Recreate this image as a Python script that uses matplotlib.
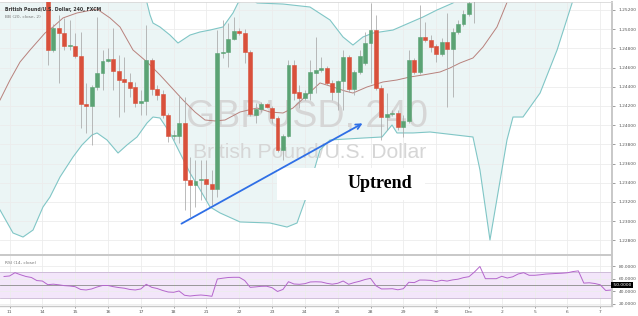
import matplotlib
matplotlib.use("Agg")
import matplotlib.pyplot as plt
from matplotlib.patches import Rectangle
import numpy as np

# GBPUSD 240-minute candles, index 0 = first candle of Nov 11 (6 candles per day)
candle_idx = np.arange(7, 86)
opens = [1.25410, 1.24783, 1.25012, 1.24960, 1.24825, 1.24825, 1.24721, 1.24221, 1.24200, 1.24398,
         1.24544, 1.24669, 1.24689, 1.24564, 1.24481, 1.24450, 1.24398, 1.24231, 1.24252, 1.24679,
         1.24377, 1.24325, 1.24106, 1.23887, 1.23887, 1.24023, 1.23429, 1.23377, 1.23434, 1.23439,
         1.23387, 1.23335, 1.24752, 1.24762, 1.24898, 1.24981, 1.24960, 1.24762, 1.24106, 1.24169,
         1.24221, 1.24179, 1.24075, 1.23741, 1.23887, 1.24627, 1.24346, 1.24283, 1.24335, 1.24544,
         1.24575, 1.24596, 1.24440, 1.24346, 1.24460, 1.24710, 1.24377, 1.24554, 1.24648, 1.24856,
         1.24991, 1.24387, 1.24085, 1.24117, 1.24127, 1.23981, 1.24044, 1.24679, 1.24554, 1.24919,
         1.24887, 1.24825, 1.24741, 1.24867, 1.24794, 1.24971, 1.25054, 1.25158, 1.25350]
highs = [1.25460, 1.25054, 1.25148, 1.25117, 1.25096, 1.24960, 1.24971, 1.24440, 1.24419, 1.25127,
         1.24783, 1.24804, 1.25012, 1.24731, 1.24710, 1.24544, 1.24450, 1.24367, 1.25044, 1.24700,
         1.24419, 1.24367, 1.24127, 1.23950, 1.24314, 1.24294, 1.23669, 1.23637, 1.23637, 1.23637,
         1.23533, 1.24991, 1.25096, 1.25064, 1.25127, 1.25012, 1.25002, 1.24783, 1.24231, 1.24241,
         1.24231, 1.24200, 1.24096, 1.23908, 1.24679, 1.24679, 1.24419, 1.24367, 1.24679, 1.24919,
         1.24710, 1.24617, 1.24471, 1.24471, 1.24783, 1.24731, 1.24575, 1.24783, 1.24971, 1.25273,
         1.25148, 1.24419, 1.24335, 1.24158, 1.24158, 1.24106, 1.24783, 1.24700, 1.25252, 1.25075,
         1.24939, 1.24846, 1.24908, 1.25169, 1.25012, 1.25096, 1.25200, 1.25350, 1.25510]
lows = [1.24627, 1.24762, 1.24440, 1.24783, 1.24783, 1.24700, 1.23971, 1.23919, 1.23794, 1.24367,
        1.24367, 1.24658, 1.24367, 1.24085, 1.24137, 1.24294, 1.24189, 1.24106, 1.24106, 1.24314,
        1.24262, 1.24075, 1.23825, 1.23846, 1.23814, 1.23117, 1.23044, 1.23148, 1.23221, 1.23221,
        1.23169, 1.23252, 1.24700, 1.24606, 1.24887, 1.24939, 1.24648, 1.24096, 1.24023, 1.24137,
        1.24179, 1.24023, 1.23721, 1.23637, 1.23877, 1.24262, 1.24179, 1.24262, 1.24262, 1.24335,
        1.24554, 1.24419, 1.24262, 1.24158, 1.24158, 1.24346, 1.24314, 1.24533, 1.24627, 1.24440,
        1.24367, 1.23846, 1.23950, 1.24096, 1.23950, 1.23877, 1.24023, 1.24533, 1.24533, 1.24867,
        1.24762, 1.24658, 1.24721, 1.24189, 1.24294, 1.24950, 1.25033, 1.25137, 1.25064]
closes = [1.24783, 1.25012, 1.24960, 1.24825, 1.24835, 1.24721, 1.24221, 1.24200, 1.24398, 1.24544,
          1.24669, 1.24689, 1.24564, 1.24471, 1.24450, 1.24387, 1.24231, 1.24252, 1.24679, 1.24377,
          1.24314, 1.24106, 1.23887, 1.23898, 1.24023, 1.23429, 1.23377, 1.23418, 1.23439, 1.23387,
          1.23335, 1.24752, 1.24762, 1.24898, 1.24981, 1.24960, 1.24762, 1.24117, 1.24169, 1.24221,
          1.24189, 1.24075, 1.23741, 1.23887, 1.24627, 1.24335, 1.24283, 1.24335, 1.24554, 1.24575,
          1.24596, 1.24440, 1.24346, 1.24460, 1.24710, 1.24377, 1.24554, 1.24721, 1.24856, 1.24991,
          1.24387, 1.24085, 1.24117, 1.24127, 1.23981, 1.24044, 1.24679, 1.24554, 1.24919, 1.24887,
          1.24814, 1.24741, 1.24867, 1.24794, 1.24971, 1.25054, 1.25158, 1.25273, 1.25460]

# Bollinger bands (20, close, 2)
bb_mid_x = [-1.74, 0.09, 1.92, 3.75, 6.49, 7.95, 9.78, 12.34, 16.0, 18.37, 20.2, 22.58, 25.14, 27.51,
            29.71, 31.72, 33.91, 35.74, 37.57, 39.4, 42.14, 45.25, 47.62, 50.0, 51.83, 54.39, 56.76,
            59.14, 61.33, 62.79, 65.36, 68.28, 70.84, 73.22, 75.59, 78.7, 80.53, 82.36, 84.73, 86.56,
            89.12, 91.13, 92.4]
bb_mid = [1.24262, 1.24471, 1.24658, 1.24783, 1.24960, 1.25023, 1.25117, 1.25169, 1.25210, 1.25117,
          1.25023, 1.24783, 1.24658, 1.24523, 1.24387, 1.24262, 1.24137, 1.24054, 1.24044, 1.24054,
          1.24137, 1.24179, 1.24137, 1.24127, 1.24179, 1.24314, 1.24440, 1.24398, 1.24356, 1.24335,
          1.24398, 1.24450, 1.24471, 1.24502, 1.24523, 1.24554, 1.24596, 1.24648, 1.24700, 1.24814,
          1.25023, 1.25304, 1.25410]
bb_up_x = [-1.74, 24.77, 25.14, 25.69, 26.23, 27.51, 29.34, 30.8, 33.0, 34.83, 36.66, 39.03, 40.86,
           41.77, 43.6, 45.25, 50.0, 54.93, 58.59, 60.97, 62.79, 64.62, 66.45, 70.1, 75.59, 78.15,
           81.08, 83.27, 107.96]
bb_up = [1.25510, 1.25360, 1.25273, 1.25148, 1.25064, 1.25023, 1.24939, 1.24856, 1.24939, 1.24971,
         1.24991, 1.25023, 1.25169, 1.25273, 1.25340, 1.25273, 1.25262, 1.25231, 1.25096, 1.24919,
         1.24835, 1.24919, 1.24960, 1.24991, 1.25127, 1.25200, 1.25273, 1.25410, 1.26350]
bb_low_x = [-1.74, 0.64, 2.47, 4.3, 6.12, 7.4, 9.23, 11.61, 13.25, 15.08, 16.0, 17.82, 19.84, 21.48,
            23.31, 25.14, 26.23, 27.51, 29.34, 31.17, 33.0, 34.83, 36.66, 38.48, 42.14, 47.62, 50.73,
            52.56, 54.39, 56.76, 58.59, 64.62, 68.1, 69.93, 70.84, 73.77, 76.88, 84.73, 86.01, 87.84,
            90.95, 92.05, 93.88, 97.0, 100.11, 103.03, 106.14]
bb_low = [1.23117, 1.22877, 1.22835, 1.22908, 1.23148, 1.23252, 1.23460, 1.23669, 1.23794, 1.23898,
          1.23919, 1.23846, 1.23710, 1.23794, 1.23877, 1.24023, 1.24085, 1.24075, 1.23919, 1.23710,
          1.23502, 1.23329, 1.23148, 1.23086, 1.22992, 1.22981, 1.22939, 1.22981, 1.23273, 1.23741,
          1.23846, 1.23866, 1.23877, 1.24002, 1.23919, 1.23919, 1.23929, 1.23877, 1.23533, 1.22804,
          1.23846, 1.24085, 1.24085, 1.24335, 1.24783, 1.25304, 1.25720]

# RSI (14, close), one value per candle starting at index -1
rsi = [63.5, 64.3, 69.5, 66.3, 63.5, 61.9, 57.0, 56.3, 50.5, 51.3, 50.3, 49.0, 48.4, 47.3, 42.9,
       42.1, 43.7, 46.8, 49.2, 49.2, 47.3, 45.9, 44.9, 42.9, 42.1, 43.7, 51.1, 46.3, 44.4, 41.3,
       38.9, 38.4, 40.5, 33.7, 32.5, 33.5, 34.1, 33.3, 32.1, 59.5, 60.8, 61.9, 62.2, 62.2, 57.1,
       46.3, 47.0, 47.9, 48.1, 45.7, 39.7, 43.0, 55.2, 51.6, 51.1, 52.1, 54.8, 55.1, 54.8, 52.7,
       51.3, 52.7, 56.3, 51.1, 53.8, 55.9, 58.7, 60.5, 48.7, 43.7, 43.8, 44.1, 42.4, 44.1, 54.3,
       53.8, 57.9, 57.8, 57.3, 55.4, 57.5, 56.2, 58.1, 59.2, 61.7, 63.2, 70.6, 79.4, 60.0, 60.0,
       60.0, 63.8, 61.1, 63.0, 67.5, 69.5, 65.4, 65.4, 66.2, 67.3, 67.8, 68.3, 68.7, 69.4, 71.3,
       72.4, 53.0, 53.5, 52.4, 50.3, 41.3, 42.0]

day_labels = ['11', '14', '15', '16', '17', '18', '21', '22', '23', '24', '25',
              '28', '29', '30', 'Dec', '2', '5', '6', '7']
price_ticks = [1.228, 1.230, 1.232, 1.234, 1.236, 1.238, 1.240, 1.242, 1.244,
               1.246, 1.248, 1.250, 1.252]
rsi_ticks = [20, 40, 60, 80]

W, H = 638, 316
fig = plt.figure(figsize=(W / 100, H / 100), dpi=100)
ax = fig.add_axes([0, 61 / H, 612 / W, 253 / H])
rx = fig.add_axes([0, 10 / H, 612 / W, 50 / H])

xlim = (-1.74, 110.15)
day_pos = [6 * d for d in range(len(day_labels))]
grid_c = '#ececec'
axis_c = '#c8c8c8'

# ---- price pane ----
ax.set_xlim(*xlim)
ax.set_ylim(1.226477, 1.252832)
ax.set_xticks(day_pos)
ax.set_xticklabels([])
ax.set_yticks(price_ticks)
ax.set_yticklabels(['%.5f' % p for p in price_ticks])
ax.yaxis.tick_right()
ax.tick_params(axis='y', labelsize=3.2, colors='#555555', length=2, width=0.4, pad=3)
ax.tick_params(axis='x', length=0)
ax.grid(True, color=grid_c, lw=0.6, zorder=0)
ax.set_axisbelow(True)
ax.spines['left'].set_visible(False)
ax.spines['top'].set_color('#d8d8d8')
ax.spines['top'].set_linewidth(0.6)
ax.spines['right'].set_color(axis_c)
ax.spines['right'].set_linewidth(1.4)
ax.spines['bottom'].set_color(axis_c)
ax.spines['bottom'].set_linewidth(1.4)

# band fill
poly_x = list(bb_up_x) + list(bb_low_x[::-1])
poly_y = list(bb_up) + list(bb_low[::-1])
ax.fill(poly_x, poly_y, color='#ebf5f5', lw=0, zorder=0.5)

# watermark
ax.text(307.5 / 612, 1 - (117 - 2) / 253, 'GBPUSD, 240', transform=ax.transAxes,
        ha='center', va='center', fontsize=27, color='#d6d6d6',
        family='Liberation Sans', zorder=1)
ax.text(310 / 612, 1 - (152 - 2) / 253, 'British Pound/U.S. Dollar', transform=ax.transAxes,
        ha='center', va='center', fontsize=15.2, color='#d6d6d6',
        family='Liberation Sans', zorder=1)

ax.plot(bb_up_x, bb_up, color='#80c6c6', lw=0.8, zorder=2)
ax.plot(bb_low_x, bb_low, color='#80c6c6', lw=0.8, zorder=2)
ax.plot(bb_mid_x, bb_mid, color='#b8817c', lw=0.7, zorder=2)

# white patch behind the annotation
ax.add_patch(Rectangle((48.9, 1.23221), 27.0, 0.00333, facecolor='white',
                       edgecolor='none', zorder=2.5))

# candles
up_c, dn_c = '#5ba374', '#d9503b'
for i, o, h, l, c in zip(candle_idx, opens, highs, lows, closes):
    col = up_c if c >= o else dn_c
    ax.vlines(i, l, h, color='#a8a8a8', lw=0.55, zorder=3)
    body = max(abs(c - o), 0.00003)
    ax.bar(i, body, bottom=min(o, c), width=0.72, color=col,
           edgecolor=col, lw=0.4, zorder=3.5)

# uptrend arrow and label
ax.annotate('', xy=(64.99, 1.24033), xytext=(30.99, 1.22960),
            arrowprops=dict(arrowstyle='->', color='#2f6fe6', lw=1.3,
                            mutation_scale=9), zorder=4)
ax.text(380 / 612, 1 - (183 - 2) / 253, 'Uptrend', transform=ax.transAxes,
        ha='center', va='center', fontsize=13, fontweight='bold',
        family='Liberation Serif', color='black', zorder=5)

fig.text(5 / W, 1 - 10 / H, 'British Pound/U.S. Dollar, 240, FXCM', fontsize=3.3,
         color='#333333', va='center', ha='left', fontweight='bold')
fig.text(5 / W, 1 - 16.5 / H, 'BB (20, close, 2)', fontsize=3.2,
         color='#777777', va='center', ha='left')

# ---- RSI pane ----
rsi_x = np.arange(-1, -1 + len(rsi))
rx.set_xlim(*xlim)
rx.set_ylim(16.67, 96.0)
rx.axhspan(30, 70, color='#f3e6fa', lw=0, zorder=0.5)
rx.axhline(70, color='#c9b6d3', lw=0.6, zorder=1)
rx.axhline(30, color='#c9b6d3', lw=0.6, zorder=1)
rx.axhline(50, color='#8a8a8a', lw=0.6, zorder=1)
rx.plot(rsi_x, rsi, color='#b466cc', lw=0.7, zorder=2)
rx.set_xticks(day_pos)
rx.set_xticklabels(day_labels)
rx.set_yticks(rsi_ticks)
rx.set_yticklabels(['%.4f' % v for v in rsi_ticks])
rx.yaxis.tick_right()
rx.tick_params(axis='y', labelsize=3.2, colors='#555555', length=2, width=0.4, pad=3)
rx.tick_params(axis='x', labelsize=3.2, colors='#555555', length=1.5, width=0.4, pad=1.5)
rx.grid(True, color=grid_c, lw=0.6, zorder=0)
rx.set_axisbelow(True)
rx.spines['left'].set_visible(False)
rx.spines['top'].set_visible(False)
rx.spines['right'].set_color(axis_c)
rx.spines['right'].set_linewidth(1.4)
rx.spines['bottom'].set_color(axis_c)
rx.spines['bottom'].set_linewidth(1.0)
rx.text(1.0, 50, ' 50.0000 ', transform=rx.get_yaxis_transform(), fontsize=3.2,
        color='white', va='center', ha='left',
        bbox=dict(boxstyle='square,pad=0.15', fc='black', ec='none'))
rx.text(5 / 612, 1 - (263 - 256) / 50, 'RSI (14, close)', transform=rx.transAxes,
        fontsize=3.2, color='#777777', va='center', ha='left')

fig.savefig('out.png', dpi=100)
